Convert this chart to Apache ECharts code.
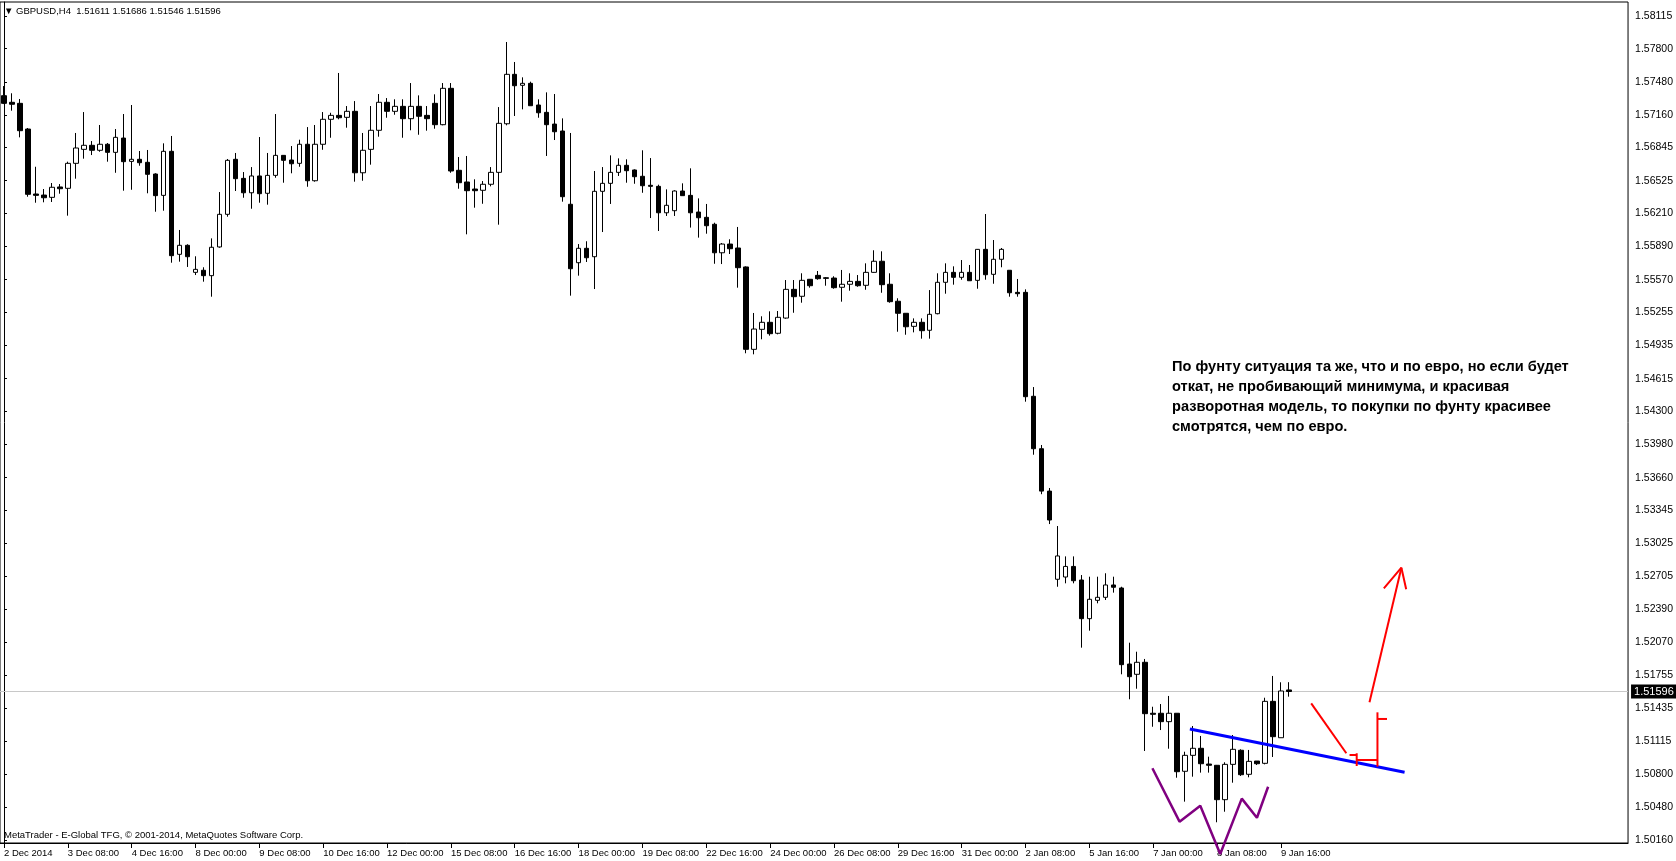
<!DOCTYPE html>
<html><head><meta charset="utf-8">
<script src="https://cdn.jsdelivr.net/npm/echarts@6/dist/echarts.min.js"></script>
<style>html,body{margin:0;padding:0;background:#fff;overflow:hidden}#c{width:1676px;height:861px}</style>
</head><body><div id="c"></div>
<script>
const symbolName = 'GBPUSD,H4';
const opens = [
1.57346,1.57282,1.57272,1.57024,1.56397,1.56387,1.56365,1.56465,1.56452,1.56693,
1.56828,1.56867,1.56819,1.56877,1.56799,1.56937,1.56712,1.56732,1.56703,1.56590,
1.56384,1.56809,1.55815,1.55902,1.55641,1.55661,1.55609,1.55886,1.56201,1.56732,
1.56548,1.56409,1.56571,1.56404,1.56577,1.56770,1.56725,1.56693,1.56877,1.56525,
1.56877,1.57118,1.57156,1.57137,1.57195,1.56602,1.56828,1.57012,1.57282,1.57195,
1.57243,1.57124,1.57243,1.57156,1.57272,1.57066,1.57417,1.56626,1.56513,1.56445,
1.56433,1.56491,1.56606,1.57075,1.57552,1.57446,1.57465,1.57256,1.57185,1.57072,
1.57005,1.56298,1.55734,1.55873,1.55792,1.56423,1.56500,1.56606,1.56674,1.56629,
1.56568,1.56481,1.56471,1.56216,1.56236,1.56426,1.56384,1.56223,1.56172,1.56105,
1.55830,1.55914,1.55876,1.55693,1.54898,1.55091,1.55159,1.55053,1.55200,1.55477,
1.55410,1.55574,1.55612,1.55589,1.55586,1.55497,1.55526,1.55554,1.55516,1.55641,
1.55748,1.55526,1.55362,1.55246,1.55120,1.55159,1.55082,1.55242,1.55545,1.55641,
1.55593,1.55641,1.55564,1.55863,1.55622,1.55767,1.55661,1.55448,1.55448,1.54445,
1.53939,1.53530,1.52679,1.52701,1.52803,1.52672,1.52299,1.52476,1.52505,1.52624,
1.52595,1.51861,1.51762,1.51878,1.51386,1.51386,1.51305,1.51386,1.50826,1.50980,
1.51048,1.50896,1.50884,1.50552,1.50893,1.51029,1.50797,1.50925,1.50903,1.51501,
1.51150,1.51611];
const highs = [
1.57439,1.57369,1.57314,1.57034,1.56660,1.56445,1.56503,1.56493,1.56709,1.56986,
1.57188,1.56908,1.57063,1.56889,1.57024,1.57169,1.57256,1.56812,1.56822,1.56597,
1.56886,1.56957,1.56050,1.55912,1.55796,1.55690,1.55969,1.56416,1.56735,1.56793,
1.56609,1.56657,1.56947,1.56793,1.57169,1.56773,1.56860,1.56921,1.57043,1.57063,
1.57188,1.57181,1.57565,1.57246,1.57294,1.56986,1.57246,1.57362,1.57323,1.57311,
1.57311,1.57468,1.57349,1.57246,1.57359,1.57468,1.57468,1.56754,1.56764,1.56539,
1.56522,1.56657,1.57236,1.57864,1.57671,1.57523,1.57481,1.57311,1.57378,1.57362,
1.57127,1.56986,1.55914,1.55941,1.56619,1.56657,1.56770,1.56741,1.56732,1.56635,
1.56819,1.56744,1.56487,1.56442,1.56433,1.56500,1.56645,1.56355,1.56301,1.56120,
1.55924,1.55960,1.56079,1.55699,1.55249,1.55217,1.55265,1.55268,1.55567,1.55567,
1.55632,1.55577,1.55654,1.55596,1.55603,1.55664,1.55632,1.55615,1.55728,1.55854,
1.55844,1.55632,1.55391,1.55246,1.55197,1.55197,1.55470,1.55632,1.55728,1.55699,
1.55760,1.55712,1.55866,1.56204,1.55953,1.55876,1.55661,1.55577,1.55477,1.54534,
1.53975,1.53560,1.53193,1.52900,1.52900,1.52720,1.52704,1.52704,1.52737,1.52704,
1.52607,1.52067,1.51980,1.51910,1.51449,1.51475,1.51553,1.51386,1.51015,1.51263,
1.51167,1.50967,1.50887,1.50913,1.51176,1.51038,1.51032,1.50925,1.51536,1.51746,
1.51685,1.51686];
const lows = [
1.57265,1.57201,1.56944,1.56371,1.56313,1.56317,1.56320,1.56400,1.56188,1.56545,
1.56738,1.56773,1.56805,1.56709,1.56602,1.56429,1.56438,1.56670,1.56404,1.56226,
1.56236,1.55734,1.55744,1.55693,1.55615,1.55551,1.55406,1.55879,1.56178,1.56426,
1.56361,1.56255,1.56313,1.56294,1.56554,1.56506,1.56597,1.56660,1.56467,1.56516,
1.56824,1.56940,1.57118,1.57037,1.56516,1.56525,1.56680,1.56950,1.57133,1.57162,
1.56940,1.57012,1.56969,1.57008,1.57027,1.57060,1.56602,1.56448,1.56008,1.56265,
1.56303,1.56471,1.56101,1.57060,1.57150,1.57214,1.57249,1.57133,1.56764,1.56918,
1.56323,1.55416,1.55609,1.55741,1.55480,1.56030,1.56301,1.56571,1.56506,1.56496,
1.56409,1.56165,1.56040,1.56185,1.56185,1.56381,1.56073,1.55976,1.56014,1.55724,
1.55721,1.55818,1.55493,1.54860,1.54850,1.54995,1.55030,1.55043,1.55193,1.55251,
1.55348,1.55493,1.55570,1.55512,1.55483,1.55358,1.55464,1.55502,1.55473,1.55637,
1.55444,1.55348,1.55068,1.55039,1.55062,1.55001,1.55001,1.55236,1.55435,1.55522,
1.55570,1.55560,1.55483,1.55570,1.55531,1.55690,1.55406,1.55406,1.54393,1.53881,
1.53500,1.53212,1.52607,1.52640,1.52640,1.52019,1.52183,1.52447,1.52479,1.52550,
1.51762,1.51521,1.51623,1.51022,1.51256,1.51224,1.51044,1.50764,1.50533,1.50774,
1.50813,1.50813,1.50334,1.50436,1.50716,1.50781,1.50768,1.50887,1.50893,1.50964,
1.51150,1.51546];
const closes = [
1.57272,1.57263,1.57008,1.56394,1.56384,1.56361,1.56462,1.56448,1.56693,1.56841,
1.56867,1.56819,1.56877,1.56799,1.56944,1.56709,1.56732,1.56699,1.56587,1.56381,
1.56809,1.55802,1.55902,1.55792,1.55670,1.55609,1.55883,1.56201,1.56722,1.56545,
1.56409,1.56571,1.56400,1.56577,1.56770,1.56722,1.56689,1.56877,1.56525,1.56877,
1.57118,1.57156,1.57133,1.57195,1.56602,1.56819,1.57012,1.57282,1.57195,1.57243,
1.57124,1.57243,1.57147,1.57124,1.57066,1.57417,1.56619,1.56506,1.56429,1.56429,
1.56491,1.56606,1.57079,1.57552,1.57442,1.57465,1.57249,1.57181,1.57066,1.56998,
1.56371,1.55676,1.55873,1.55782,1.56423,1.56500,1.56606,1.56674,1.56622,1.56564,
1.56477,1.56471,1.56216,1.56288,1.56426,1.56381,1.56216,1.56168,1.56091,1.55830,
1.55914,1.55869,1.55686,1.54898,1.55094,1.55159,1.55049,1.55207,1.55477,1.55406,
1.55564,1.55512,1.55580,1.55583,1.55493,1.55526,1.55554,1.55512,1.55641,1.55748,
1.55522,1.55358,1.55246,1.55116,1.55159,1.55078,1.55236,1.55545,1.55641,1.55593,
1.55641,1.55560,1.55863,1.55618,1.55767,1.55863,1.55444,1.55435,1.54441,1.53939,
1.53530,1.53251,1.52904,1.52803,1.52665,1.52299,1.52486,1.52505,1.52624,1.52602,
1.51855,1.51739,1.51878,1.51382,1.51376,1.51305,1.51386,1.50822,1.50980,1.51048,
1.50899,1.50884,1.50552,1.50893,1.51038,1.50793,1.50922,1.50899,1.51501,1.51160,
1.51601,1.51596];
const timeTicks = ['2 Dec 2014','3 Dec 08:00','4 Dec 16:00','8 Dec 00:00','9 Dec 08:00','10 Dec 16:00',
'12 Dec 00:00','15 Dec 08:00','16 Dec 16:00','18 Dec 00:00','19 Dec 08:00','22 Dec 16:00','24 Dec 00:00',
'26 Dec 08:00','29 Dec 16:00','31 Dec 00:00','2 Jan 08:00','5 Jan 16:00','7 Jan 00:00','8 Jan 08:00','9 Jan 16:00'];
const priceTicks = ['1.58115','1.57800','1.57480','1.57160','1.56845','1.56525','1.56210','1.55890','1.55570',
'1.55255','1.54935','1.54615','1.54300','1.53980','1.53660','1.53345','1.53025','1.52705','1.52390','1.52070',
'1.51755','1.51435','1.51115','1.50800','1.50480','1.50160'];
const currentPrice = 1.51596;
const blueLine = [[148.6,1.51234],[175.5,1.50816]];
const purpleLine = [[143.9,1.50855],[147.3,1.50340],[149.9,1.50494],[152.4,1.50028],[155.1,1.50562],[157.0,1.50378],[158.4,1.50677]];
const redLines = [
  [[163.8,1.51482],[168.2,1.51000]],
  [[168.6,1.50983],[169.5,1.50983]],
  [[169.5,1.51000],[169.5,1.50877]],
  [[169.5,1.50935],[172.1,1.50935]],
  [[172.1,1.51395],[172.1,1.50871]],
  [[172.1,1.51331],[173.3,1.51331]],
  [[171.1,1.51492],[175.1,1.52791]],
  [[172.9,1.52592],[175.1,1.52791],[175.7,1.52582]]
];
const noteLines = ['По фунту ситуация та же, что и по евро, но если будет','откат, не пробивающий минимума, и красивая','разворотная модель, то покупки по фунту красивее','смотрятся, чем по евро.'];
const slots = 204;

const FONT = "'Liberation Sans',Arial,sans-serif";
const chart = echarts.init(document.getElementById('c'), null, {renderer:'canvas'});
const cats = Array.from({length: slots}, (_, i) => String(i));
const last = opens.length - 1;
const header = '\u25BC ' + symbolName + '  ' + [opens[last], highs[last], lows[last], closes[last]].map(v => v.toFixed(5)).join(' ');

const annSeries = [];
annSeries.push({type:'line', xAxisIndex:1, yAxisIndex:0, data:[[-0.5, currentPrice],[slots - 0.5, currentPrice]],
  showSymbol:false, silent:true, clip:false, z:1, lineStyle:{color:'#c8c8c8', width:1},
  endLabel:{show:true, formatter:() => currentPrice.toFixed(5), backgroundColor:'#000', color:'#fff',
    padding:[2,3,1,3], distance:3, fontSize:11, fontFamily:FONT}});
annSeries.push({type:'line', xAxisIndex:1, yAxisIndex:0, data: blueLine, showSymbol:false, silent:true, clip:false, z:5,
  lineStyle:{color:'#0000ff', width:3}});
annSeries.push({type:'line', xAxisIndex:1, yAxisIndex:0, data: purpleLine, showSymbol:false, silent:true, clip:false, z:5,
  lineStyle:{color:'#800080', width:2.5}});
redLines.forEach(seg => annSeries.push({type:'line', xAxisIndex:1, yAxisIndex:0, data: seg, showSymbol:false, silent:true, clip:false, z:5,
  lineStyle:{color:'#ff0000', width:2}}));

chart.setOption({
  animation:false,
  backgroundColor:'#ffffff',
  grid:{left:0, right:44, top:2, bottom:18, show:true, borderColor:'#000', borderWidth:1, backgroundColor:'#fff'},
  xAxis:[{
    type:'category', data:cats, boundaryGap:true,
    axisLine:{show:true, lineStyle:{color:'#000', width:1}},
    axisTick:{show:true, alignWithLabel:true, length:5, lineStyle:{color:'#000'},
      interval:(i) => i % 8 === 0 && i / 8 < timeTicks.length},
    axisLabel:{show:true, align:'left', margin:5, fontSize:9.5, fontFamily:FONT, color:'#000',
      interval:(i) => i % 8 === 0 && i / 8 < timeTicks.length,
      formatter:(v, i) => timeTicks[i / 8] || ''},
    splitLine:{show:false}
  },{
    type:'value', min:-0.5, max:slots - 0.5, show:false
  }],
  yAxis:[{
    type:'value', position:'right', min:1.50134, max:1.58250, scale:true,
    axisLine:{show:true, lineStyle:{color:'#000'}},
    axisTick:{show:true, length:3, lineStyle:{color:'#000'}, customValues: priceTicks.map(Number)},
    axisLabel:{show:true, margin:7, fontSize:10.5, fontFamily:FONT, color:'#000',
      customValues: priceTicks.map(Number), formatter:(v) => v.toFixed(5)},
    splitLine:{show:false}
  }],
  graphic:[
    {type:'text', left:4, top:6, z:10, style:{text:header, font:'9.5px ' + FONT, fill:'#000'}},
    {type:'text', left:4, top:830, z:10, style:{text:'MetaTrader - E-Global TFG, \u00A9 2001-2014, MetaQuotes Software Corp.', font:'9.5px ' + FONT, fill:'#000'}},
    {type:'text', left:1172, top:357, z:10, style:{text:noteLines.join('\n'), font:'bold 14.6px "Liberation Sans", Arial, sans-serif', fill:'#000', lineHeight:20}}
  ],
  series:[{
    type:'candlestick', xAxisIndex:0, yAxisIndex:0,
    data: opens.map((o, i) => [o, closes[i], lows[i], highs[i]]),
    barWidth:5, silent:true, z:3,
    itemStyle:{color:'#ffffff', color0:'#000000', borderColor:'#000000', borderColor0:'#000000', borderColorDoji:'#000000', borderWidth:1}
  }].concat(annSeries)
});
</script>
</body></html>
